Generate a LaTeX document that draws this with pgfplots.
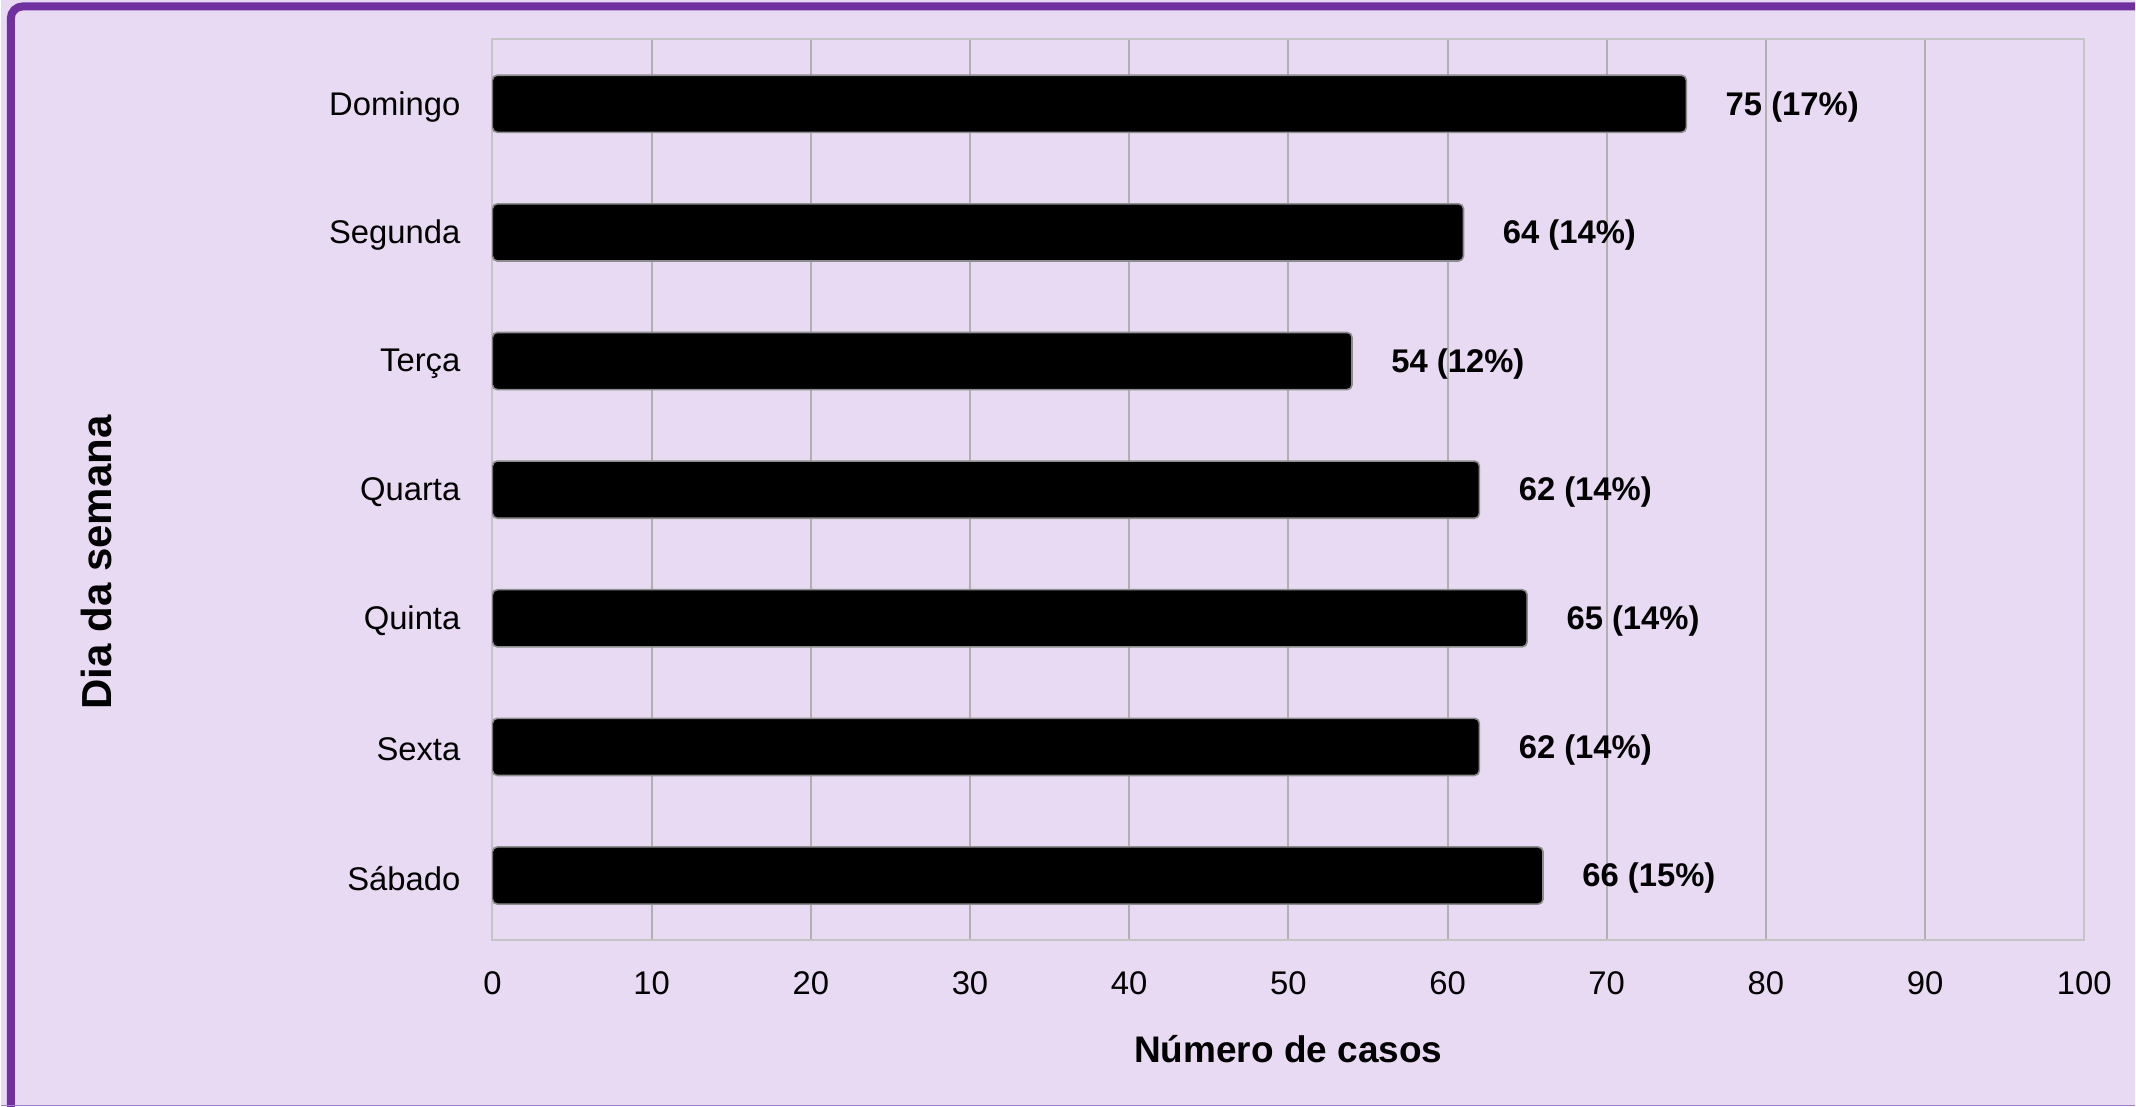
\documentclass[border=0pt]{standalone}
\usepackage{pgfplots}
\pgfplotsset{compat=1.18}
\usepackage{fontspec}
\setmainfont{Liberation Sans}
\definecolor{bgpurple}{HTML}{E8DAF2}
\definecolor{framepurple}{HTML}{7030A0}
\definecolor{bottomline}{HTML}{A27ED0}
\definecolor{gridgray}{HTML}{B0B0B0}
\definecolor{axisgray}{HTML}{C4C4C4}
\begin{document}
\begin{tikzpicture}
% background panel, 2136x1107 px at 0.25pt per px
\fill[bgpurple] (0,0) rectangle (534pt,-276.75pt);
\begin{scope}
  \clip (0,0) rectangle (534pt,-276.75pt);
  \draw[framepurple, line width=2pt, rounded corners=3pt]
    (2.5pt,-300pt) -- (2.5pt,-1.6pt) -- (560pt,-1.6pt);
\end{scope}
\draw[bottomline, line width=0.4pt] (0,-276.55pt) -- (534pt,-276.55pt);

\begin{axis}[
    at={(123pt,-9.875pt)}, anchor=north west,
    scale only axis,
    width=398.25pt, height=225.25pt,
    xbar, bar width=14.3pt,
    xmin=0, xmax=100,
    ymin=-0.5, ymax=6.5,
    xtick={0,10,...,100},
    ytick={0,...,6},
    yticklabels={Sábado,Sexta,Quinta,Quarta,Terça,Segunda,Domingo},
    xmajorgrids=true,
    major grid style={color=gridgray, line width=0.5pt},
    axis line style={color=axisgray, line width=0.5pt},
    major tick length=0pt,
    tick label style={font=\fontsize{8.2}{9.8}\selectfont},
    /pgf/number format/assume math mode=true,
    xticklabel style={yshift=-4.3pt},
    yticklabel style={xshift=-4.5pt, yshift=-0.7pt},
    xlabel={Número de casos},
    ylabel={Dia da semana},
    xlabel style={at={(axis description cs:0.5,-0.121)}, anchor=center,
                  font=\fontsize{9.25}{11}\selectfont\bfseries},
    ylabel style={at={(axis description cs:-0.249,0.419)}, anchor=center,
                  font=\fontsize{10.5}{12}\selectfont\bfseries},
    point meta=explicit symbolic,
    nodes near coords,
    nodes near coords style={font=\fontsize{8.2}{9.8}\selectfont\bfseries,
                             anchor=center, xshift=26.5pt, yshift=-0.7pt},
  ]
  \addplot[fill=black, draw=black!45, line width=0.4pt, rounded corners=1.2pt]
    coordinates {
      (66,0) [66 (15\%)]
      (62,1) [62 (14\%)]
      (65,2) [65 (14\%)]
      (62,3) [62 (14\%)]
      (54,4) [54 (12\%)]
      (61,5) [64 (14\%)]
      (75,6) [75 (17\%)]
    };
\end{axis}
\end{tikzpicture}
\end{document}
